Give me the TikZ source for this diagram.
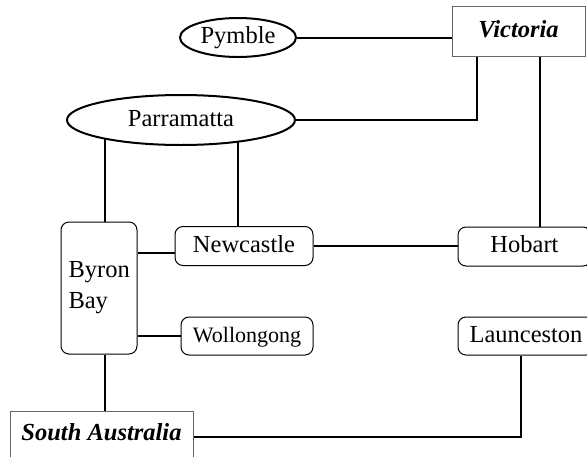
\documentclass[tikz,border=0pt]{standalone}
\usepackage{fontspec}
\setmainfont{Liberation Serif}
\usetikzlibrary{positioning, shapes.geometric, backgrounds}

\begin{document}
\begin{tikzpicture}[x=1pt, y=-1pt,
                font=\fontsize{24.5}{31}\selectfont,
                citybox/.style={draw, line width=1pt, rounded corners=8pt, inner sep=0pt},
                cityname/.style={citybox, minimum height=39pt, text height=17pt, text depth=5pt},
                cityoval/.style={draw, ellipse, line width=2pt, fill=white, inner sep=0pt,
                                text height=17pt, text depth=5pt},
                statebox/.style={draw=black!60, line width=1pt, minimum height=50pt, inner sep=0pt,
                                text height=17pt, text depth=5pt,
                                font=\fontsize{24.5}{31}\selectfont\bfseries\itshape},
                link/.style={line width=2pt}]

                \useasboundingbox (0,0) rectangle (587,456);

                % States
                \node[statebox, minimum width=133pt] (victoria) at (518.5,31) {Victoria};
                \node[statebox, minimum width=183pt, minimum height=46pt] (sa) at (101.5,434) {South Australia};

                % Ovals
                \node[cityoval, minimum width=116pt, minimum height=39pt] (pymble) at (238,37.5) {Pymble};
                \node[cityoval, minimum width=228pt, minimum height=50pt] (parramatta) at (181,120) {Parramatta};

                % Rounded boxes
                \node[citybox, minimum height=132pt, text width=61pt, inner xsep=7.5pt, align=left] (byron) at (99,288) {Byron\\Bay};
                \node[cityname, minimum width=138pt] (newcastle) at (244,246) {Newcastle};
                \node[cityname, minimum width=133pt] (hobart) at (524.5,246.5) {Hobart};
                \node[cityname, minimum width=132pt, minimum height=38pt, font=\fontsize{22}{26}\selectfont] (wollongong) at (247,336) {Wollongong};
                \node[cityname, minimum width=136pt, minimum height=38pt] (launceston) at (526,336) {Launceston};

                % Links into the ovals (hidden behind them)
                \begin{scope}[on background layer]
                    \draw[link] ([xshift=6pt]byron.north) -- ([xshift=6pt]byron.north |- parramatta.center);
                    \draw[link] ([xshift=-6pt]newcastle.north) -- ([xshift=-6pt]newcastle.north |- parramatta.center);
                \end{scope}

                % Links
                \draw[link] (pymble.east) -- (pymble.east -| victoria.west);
                \draw[link] ([xshift=-41.5pt]victoria.south) |- (parramatta.east);
                \draw[link] ([xshift=21.5pt]victoria.south) -- ([xshift=21.5pt]victoria.south |- hobart.north);
                \draw[link] ([yshift=-7pt]newcastle.west) -- ([yshift=-7pt]newcastle.west -| byron.east);
                \draw[link] (newcastle.east) -- (newcastle.east -| hobart.west);
                \draw[link] (wollongong.west) -- (wollongong.west -| byron.east);
                \draw[link] ([xshift=6pt]byron.south) -- ([xshift=6pt]byron.south |- sa.north);
                \draw[link] ([yshift=-3pt]sa.east) -| ([xshift=-5pt]launceston.south);
            \end{tikzpicture}
\end{document}
